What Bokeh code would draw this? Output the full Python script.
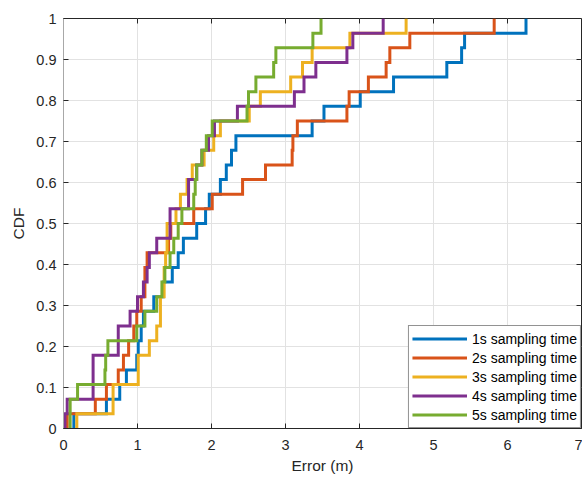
import math
from bokeh.plotting import figure
from bokeh.models import Range1d, FixedTicker, Legend, LegendItem
from bokeh.embed import file_html
from bokeh.resources import INLINE

# ---- data (sorted error samples) ----
series_names = ["1s sampling time", "2s sampling time", "3s sampling time",
                "4s sampling time", "5s sampling time"]
series_colors = ["#0072BD", "#D95319", "#EDB120", "#7E2F8E", "#77AC30"]

err_1s = [0.14, 0.58, 0.76, 0.85, 0.99, 1.01, 1.05, 1.08, 1.22, 1.35, 1.47, 1.55, 1.62, 1.80,
          1.92, 1.97, 2.12, 2.20, 2.27, 2.33, 3.36, 3.52, 4.01, 4.46, 5.18, 5.38, 5.42, 6.25]
err_2s = [0.05, 0.43, 0.58, 0.74, 0.81, 0.88, 0.95, 0.99, 1.05, 1.10, 1.10, 1.13, 1.42, 1.45,
          1.76, 2.01, 2.42, 2.73, 3.09, 3.10, 3.16, 3.83, 3.86, 4.12, 4.36, 4.41, 4.68, 5.82]
err_3s = [0.18, 0.67, 0.67, 1.01, 1.01, 1.16, 1.26, 1.31, 1.31, 1.36, 1.36, 1.38, 1.40, 1.40,
          1.52, 1.58, 1.67, 1.74, 1.90, 2.03, 2.12, 2.51, 2.66, 3.07, 3.23, 3.36, 3.87, 4.63]
err_4s = [0.02, 0.05, 0.40, 0.40, 0.40, 0.74, 0.74, 0.90, 1.00, 1.08, 1.13, 1.16, 1.26, 1.44,
          1.44, 1.69, 1.69, 1.80, 1.87, 1.96, 2.04, 2.35, 3.12, 3.25, 3.41, 3.83, 3.91, 4.32]
err_5s = [0.09, 0.09, 0.19, 0.56, 0.57, 0.60, 0.99, 1.10, 1.26, 1.33, 1.37, 1.44, 1.49, 1.55,
          1.60, 1.76, 1.78, 1.80, 1.87, 1.93, 2.01, 2.48, 2.50, 2.60, 2.84, 2.87, 3.37, 3.48]

x_ticks = [0, 1, 2, 3, 4, 5, 6, 7]
y_ticks = [0, 0.1, 0.2, 0.3, 0.4, 0.5, 0.6, 0.7, 0.8, 0.9, 1]
y_tick_labels = ["0", "0.1", "0.2", "0.3", "0.4", "0.5", "0.6", "0.7", "0.8", "0.9", "1"]

all_series = [err_1s, err_2s, err_3s, err_4s, err_5s]

FONT = "Liberation Sans"
TXT = "#262626"

p = figure(width=582, height=477,
           x_range=Range1d(x_ticks[0], x_ticks[-1]), y_range=Range1d(y_ticks[0], y_ticks[-1]),
           output_backend="svg", toolbar_location=None,
           min_border_left=63, min_border_right=1, min_border_top=18, min_border_bottom=49)
p.outline_line_color = TXT
p.outline_line_width = 1
p.background_fill_color = "white"

# grid
p.xgrid.ticker = FixedTicker(ticks=x_ticks)
p.ygrid.ticker = FixedTicker(ticks=y_ticks)
for g in (p.xgrid, p.ygrid):
    g.grid_line_color = "#e2e2e2"
    g.grid_line_width = 1

def style_axis(ax, ticks, label, line_color=TXT):
    ax.ticker = FixedTicker(ticks=ticks)
    ax.major_tick_in = 5
    ax.major_tick_out = 0
    ax.major_tick_line_color = TXT
    ax.minor_tick_line_color = None
    ax.axis_line_color = line_color
    ax.axis_line_width = 1
    ax.major_label_text_font = FONT
    ax.major_label_text_font_size = "14.5px"
    ax.major_label_text_color = TXT
    ax.axis_label = label
    ax.axis_label_text_font = FONT
    ax.axis_label_text_font_size = "15.5px"
    ax.axis_label_text_font_style = "normal"
    ax.axis_label_text_color = TXT

style_axis(p.xaxis[0], x_ticks, "Error (m)")
p.xaxis[0].major_label_standoff = 11
p.xaxis[0].axis_label_standoff = 4
style_axis(p.yaxis[0], y_ticks, "CDF", line_color="#a8a8a8")
p.yaxis[0].major_label_overrides = {t: l for t, l in zip(y_ticks, y_tick_labels)}
p.yaxis[0].major_label_standoff = 7
p.yaxis[0].axis_label_standoff = 6

# inward tick marks on the top and right edges of the box
p.ray(x=x_ticks, y=[y_ticks[-1]] * len(x_ticks), length=5, length_units="screen",
      angle=-math.pi / 2, line_color=TXT, line_width=1)
p.ray(x=[x_ticks[-1]] * len(y_ticks), y=y_ticks, length=5, length_units="screen",
      angle=math.pi, line_color=TXT, line_width=1)

# CDF stairs
items = []
for name, color, vals in zip(series_names, series_colors, all_series):
    n = len(vals)
    xs, ys = [], []
    for i, v in enumerate(sorted(vals)):
        xs += [v, v]
        ys += [i / n, (i + 1) / n]
    r = p.line(xs, ys, line_color=color, line_width=3, line_join="miter")
    items.append(LegendItem(label=name, renderers=[r]))

legend = Legend(items=items, location="bottom_right", margin=0, padding=3, spacing=0,
                glyph_width=55, glyph_height=19, label_height=19, label_standoff=5,
                label_text_font=FONT, label_text_font_size="14px", label_text_color="#000000",
                border_line_color=TXT, border_line_width=1, background_fill_alpha=1)
p.add_layout(legend)

open("out.html", "w").write(file_html(p, INLINE))
